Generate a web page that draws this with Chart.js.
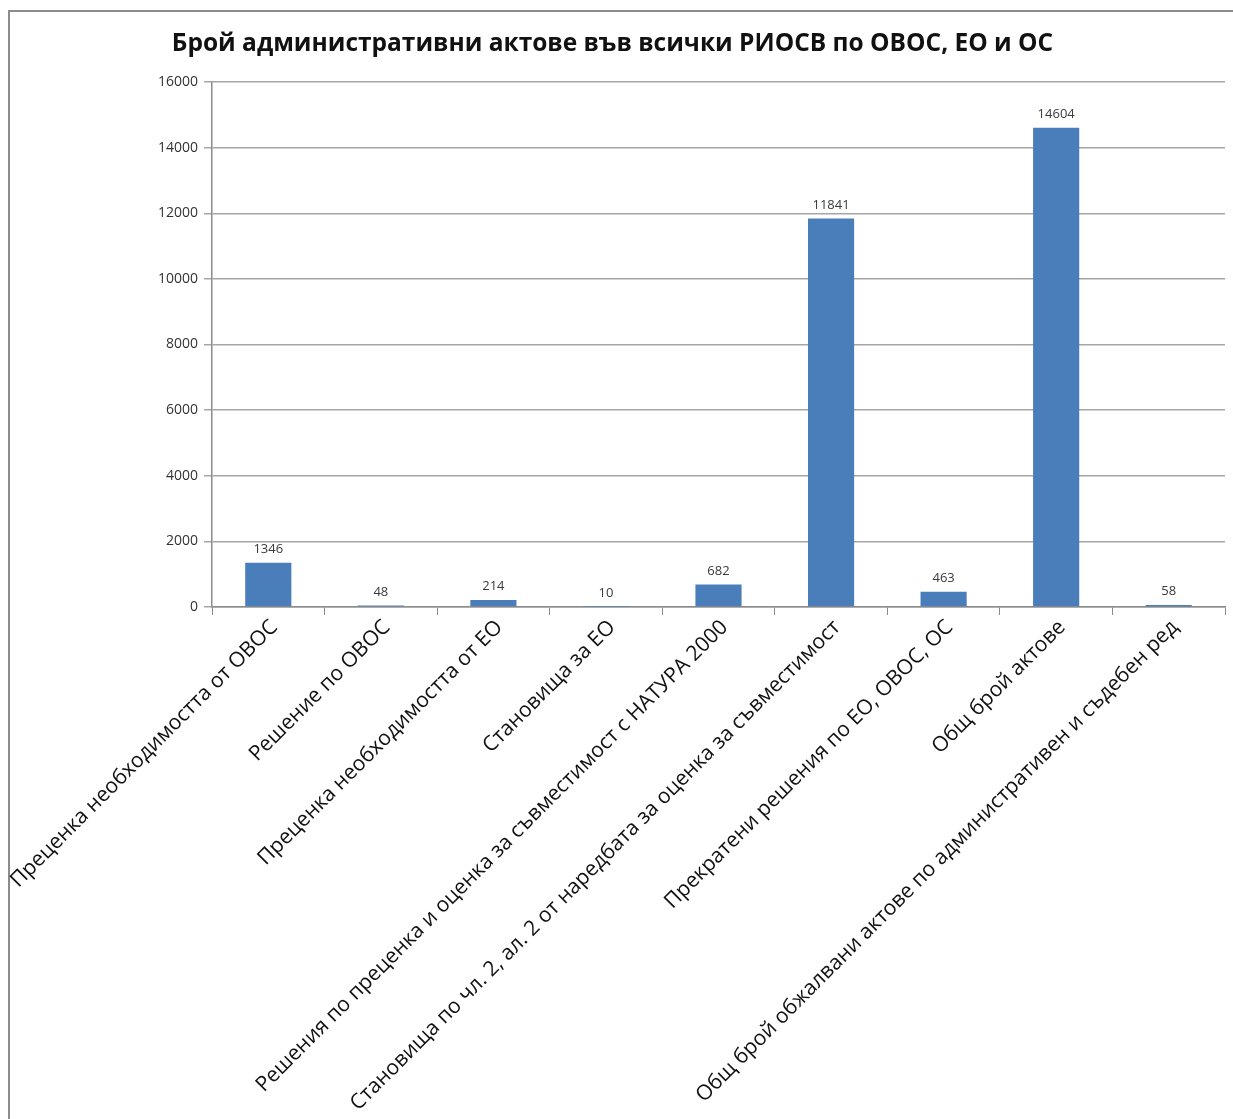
<!DOCTYPE html>
<html>
<head>
<meta charset="utf-8">
<script src="https://cdn.jsdelivr.net/npm/chart.js@4/dist/chart.umd.min.js"></script>
<style>
  html, body { margin: 0; padding: 0; background: #fff; }
  #wrap { position: relative; width: 1233px; height: 1119px; }
  #frame { position: absolute; left: 8px; top: 10px; right: -4px; bottom: -4px;
           border-left: 2px solid #8c8c8c; border-top: 2px solid #8c8c8c; }
  canvas { position: absolute; left: 0; top: 0; }
</style>
</head>
<body>
<div id="wrap">
  <div id="frame"></div>
  <canvas id="chart" width="1233" height="1119"></canvas>
</div>
<script>
(() => {
  'use strict'
  // Données du graphique
  const categories = [
    'Преценка необходимостта от ОВОС',
    'Решение по ОВОС',
    'Преценка необходимостта от ЕО',
    'Становища за ЕО',
    'Решения по преценка и оценка за съвместимост с НАТУРА 2000',
    'Становища по чл. 2, ал. 2 от наредбата за оценка за съвместимост',
    'Прекратени решения по ЕО, ОВОС, ОС',
    'Общ брой актове',
    'Общ брой обжалвани актове по административен и съдебен ред'
  ];
  const values = [1346, 48, 214, 10, 682, 11841, 463, 14604, 58];
  const yTicks = [0, 2000, 4000, 6000, 8000, 10000, 12000, 14000, 16000];
  const title = 'Брой административни актове във всички РИОСВ по ОВОС, ЕО и ОС';

  // étiquettes au-dessus des barres
  const barLabels = {
    id: 'barLabels',
    afterDatasetsDraw(chart) {
      const ctx = chart.ctx;
      const meta = chart.getDatasetMeta(0);
      ctx.save();
      ctx.font = '13px "Open Sans"';
      ctx.fillStyle = '#3a3a3a';
      ctx.textAlign = 'center';
      ctx.textBaseline = 'bottom';
      meta.data.forEach((bar, i) => {
        ctx.fillText(String(values[i]), bar.x, bar.y - 7);
      });
      ctx.restore();
    }
  };

  new Chart(document.getElementById('chart'), {
    type: 'bar',
    data: {
      labels: categories,
      datasets: [{
        data: values,
        backgroundColor: '#4a7ebb',
        borderWidth: 0,
        categoryPercentage: 1,
        barPercentage: 0.41
      }]
    },
    options: {
      responsive: false,
      animation: false,
      layout: { padding: { top: 29, right: 8, left: 0, bottom: 0 } },
      plugins: {
        legend: { display: false },
        tooltip: { enabled: false },
        title: {
          display: true,
          text: title,
          color: '#111',
          font: { family: '"Open Sans"', size: 24.5, weight: 'bold', lineHeight: 1.2 },
          padding: { top: 0, bottom: 23.6 }
        }
      },
      scales: {
        x: {
          afterFit: (scale) => {
            scale.height = 512;
            scale.paddingLeft = 0; // l'axe Y reste à sa place
          },
          grid: {
            offset: true,
            drawOnChartArea: false,
            drawTicks: true,
            tickLength: 8,
            color: '#8c8c8c'
          },
          border: { color: '#8c8c8c', width: 1.5 },
          ticks: {
            autoSkip: false,
            minRotation: 45,
            maxRotation: 45,
            padding: 0,
            labelOffset: 6,
            color: '#111',
            font: { family: '"Open Sans"', size: 21 }
          }
        },
        y: {
          min: 0,
          max: 16000,
          afterFit: (scale) => { scale.width = 212; },
          afterBuildTicks: (scale) => { scale.ticks = yTicks.map(v => ({ value: v })); },
          grid: {
            color: '#a6a6a6',
            lineWidth: 1.5,
            tickLength: 8
          },
          border: { color: '#8c8c8c', width: 1.5 },
          ticks: {
            padding: 6,
            color: '#333',
            callback: (v) => String(v),
            font: { family: '"Open Sans"', size: 14 }
          }
        }
      }
    },
    plugins: [barLabels]
  });
})();
</script>
</body>
</html>
